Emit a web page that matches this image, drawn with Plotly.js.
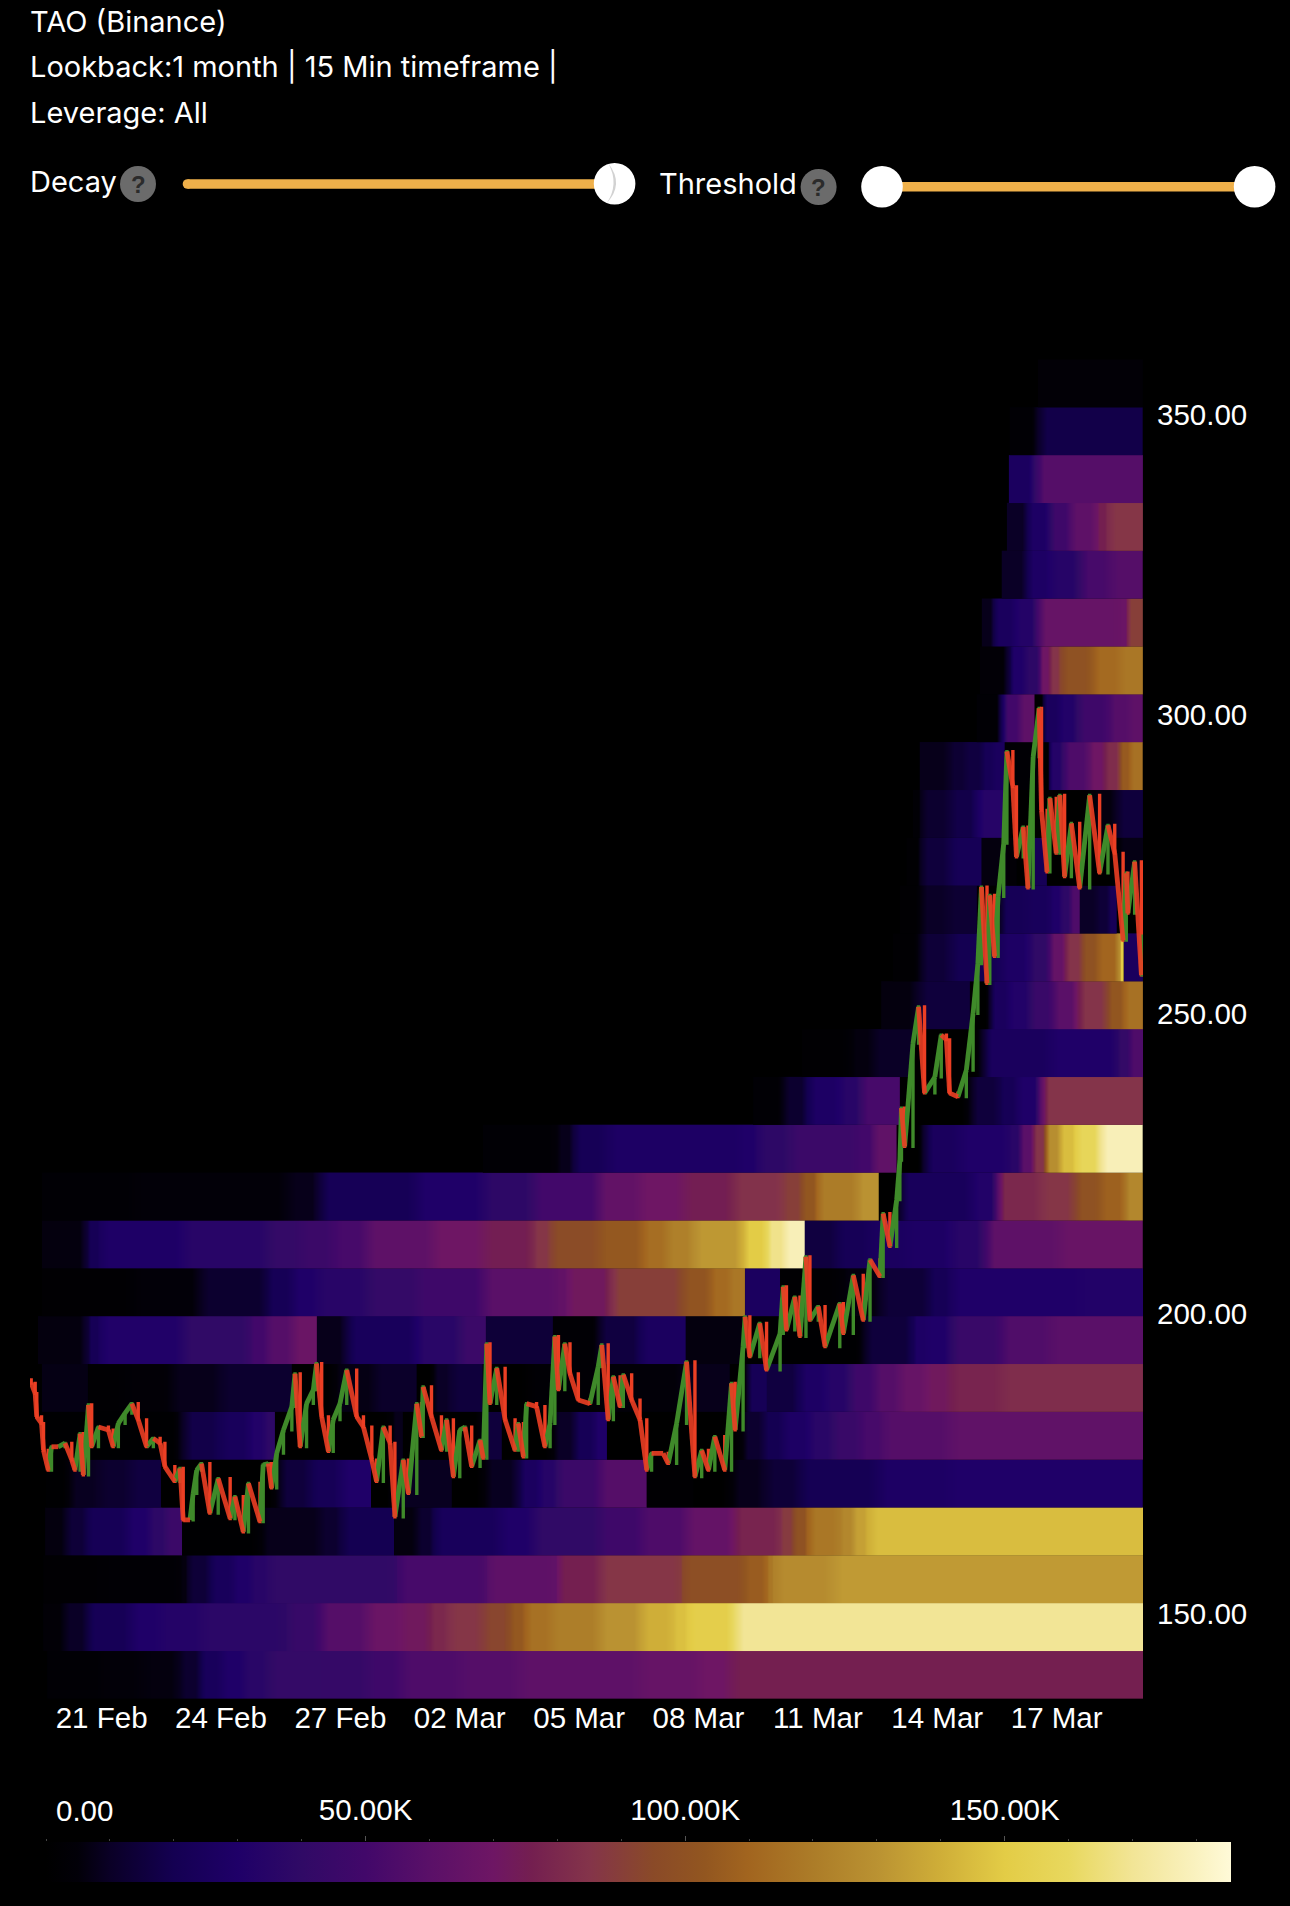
<!DOCTYPE html>
<html><head><meta charset="utf-8">
<script src="https://cdn.plot.ly/plotly-3.0.1.min.js"></script>
<style>html,body{margin:0;padding:0;background:#000}#c{width:1290px;height:1906px}</style>
</head><body><div id="c"></div>
<script>
// time is in days after 21 Feb; values in thousands
const candleDays=[-1.77,-1.67,-1.63,-1.51,-1.46,-1.34,-1.26,-1.09,-0.92,-0.75,-0.67,-0.54,-0.46,-0.33,-0.25,-0.08,0.17,0.29,0.42,0.59,0.76,0.92,1.13,1.30,1.47,1.59,1.84,1.97,2.05,2.22,2.30,2.39,2.51,2.72,2.93,3.23,3.35,3.56,3.69,3.98,4.06,4.19,4.27,4.40,4.57,4.78,4.86,4.99,5.15,5.32,5.40,5.53,5.70,5.82,5.99,6.16,6.41,6.58,6.79,6.91,7.08,7.25,7.37,7.58,7.71,7.92,8.04,8.08,8.29,8.54,8.67,8.84,9.00,9.13,9.30,9.51,9.59,9.68,9.76,9.93,10.14,10.39,10.47,10.60,10.68,10.93,11.14,11.27,11.39,11.48,11.64,11.77,11.98,12.27,12.48,12.57,12.73,12.86,13.03,13.11,13.32,13.53,13.70,13.82,14.11,14.24,14.45,14.70,14.91,15.08,15.25,15.41,15.66,15.83,15.92,16.12,16.17,16.29,16.54,16.71,17.05,17.13,17.21,17.42,17.55,17.70,17.80,18.01,18.18,18.55,18.64,18.89,19.14,19.31,19.56,19.64,19.81,19.98,20.06,20.10,20.18,20.39,20.53,20.68,20.94,21.10,21.23,21.31,21.52,21.73,21.90,22.02,22.11,22.25,22.32,22.44,22.53,22.67,22.75,22.90,22.99,23.16,23.28,23.41,23.56,23.62,23.76,23.83,23.99,24.08,24.20,24.37,24.58,24.83,25.08,25.29,25.46,25.67,25.75,25.79,25.96,26.13,26.15];
const candleCloses=[188.4,186.7,182.8,181.7,177.2,173.9,177.8,177.8,178.4,175.6,173.9,180.0,173.1,184.8,177.8,181.1,180.6,177.8,181.7,183.4,185.0,182.3,177.8,179.2,178.4,174.5,172.0,174.2,165.6,165.6,170.0,173.9,175.0,166.7,172.5,165.8,169.5,163.6,171.7,165.3,174.8,175.0,170.9,176.7,180.6,184.5,190.0,177.8,185.0,187.3,191.7,182.8,177.0,182.3,185.0,190.6,182.8,181.1,175.6,172.0,181.1,178.4,166.1,175.6,170.0,185.0,179.5,187.8,182.8,177.2,182.3,172.8,180.6,181.1,174.5,178.9,175.9,195.0,185.0,190.9,182.3,177.2,181.7,176.1,185.0,184.5,177.8,181.7,196.2,187.3,195.0,190.0,185.6,185.0,191.2,194.8,182.3,189.5,184.5,189.8,185.6,182.3,173.9,176.7,176.7,175.0,181.7,192.0,172.8,177.2,173.9,179.5,173.9,188.4,180.6,194.5,199.5,192.8,198.4,190.6,196.7,204.5,197.3,202.8,196.2,209.5,198.9,201.2,194.5,201.7,196.7,206.4,198.9,209.0,206.2,216.7,211.2,219.0,225.6,234.3,227.9,245.1,251.2,236.8,239.5,246.5,245.7,236.8,236.2,240.6,250.1,258.4,271.2,255.1,269.8,259.6,269.6,278.5,293.8,287.9,276.2,281.2,271.0,292.9,301.0,284.0,273.7,286.0,276.8,286.5,272.9,281.8,271.0,286.5,273.5,281.5,276.8,262.3,273.5,266.8,275.4,256.5,263.0];

const bandBottoms=[135.77,143.75,151.73,159.71,167.69,175.67,183.65,191.63,199.61,207.59,215.57,223.55,231.53,239.51,247.49,255.47,263.45,271.43,279.41,287.39,295.37,303.35,311.33,319.31,327.29,335.27,343.25,351.23];
const bandHeight=7.98;
const lastDay=26.17;
// each entry: [day the step starts, liquidation value in K]
const band0=[[-1.37,3],[0,5],[1,6],[1.97,12],[2.47,24],[3,30],[3.55,36],[4.15,42],[5.5,43],[6.67,48],[7.5,55],[9,58],[10.5,62],[13.5,66],[15,70],[15.8,76]];
const band1=[[-1.47,4],[-0.97,10],[-0.37,22],[0.71,30],[1.47,33],[2.47,37],[4.41,38],[4.66,44],[5.49,58],[6.67,68],[7.5,72],[8.25,80],[8.68,86],[9.58,93],[10.26,104],[10.64,115],[11.27,121],[12.5,130],[13.53,140],[14.36,146],[14.71,152],[15.87,170]];
const band2=[[-1.47,2],[0,3],[1.97,6],[2.15,14],[2.72,24],[3.3,30],[3.73,35],[4.15,40],[7.32,43],[7.42,52],[9.58,55],[9.68,62],[11.27,63],[11.45,76],[12.5,86],[14.53,90],[14.6,98],[16.12,106],[16.72,118],[16.87,127],[18.37,133]];
const band3=[[-1.42,6],[-0.9,14],[-0.4,22],[0.64,30],[1.2,38],[1.6,46],[2.02,1],[3.98,8],[5.49,12],[6,20],[7.35,6],[7.92,12],[8.33,24],[10,30],[10.84,40],[12.5,48],[13.53,55],[14.7,65],[15.87,78],[17.04,88],[17.37,100],[17.72,118],[18.55,125],[18.88,135],[19.23,145]];
const band4=[[-1.4,1],[-0.84,9],[-0.04,12],[0.71,16],[1.5,0],[4.43,15],[5.24,22],[6,30],[6.77,0],[7.25,9],[8.8,0],[9.58,9],[10.5,26],[11,34],[11.44,46],[12.5,58],[13.7,2],[14.88,0],[15.79,8],[16.67,14],[17.55,21],[19.5,28],[21.3,30]];
const band5=[[-1.4,1],[2.02,18],[3,24],[3.73,32],[4.1,38],[4.36,0],[7.29,8],[7.57,0],[9.58,15],[10.06,0],[11.34,10],[11.9,22],[12.4,30],[12.7,0],[16.12,12],[16.62,20],[17.13,28],[17.8,36],[18.38,45],[19.06,52],[19.64,58],[21.32,63]];
const band6=[[-1.5,7],[-0.34,2],[0.59,4],[1.72,8],[2.98,12],[4.78,0],[5.82,7],[6.87,11],[7.92,0],[8.33,10],[8.75,15],[9.58,0],[10.69,3],[12.5,5],[14.6,8],[15.79,0],[16.22,22],[16.72,16],[17.55,28],[18.17,34],[18.8,48],[19.43,58],[20.06,66],[20.69,72],[21.32,78],[22.6,82]];
const band7=[[-1.6,6],[-0.34,22],[-0.04,31],[2.05,40],[3.73,50],[4.15,58],[4.8,68],[5.41,8],[6.17,24],[7.92,36],[9,46],[9.66,14],[11.34,3],[12.5,16],[13.53,26],[14.68,6],[16.12,1],[19.13,15],[20.4,28],[20.69,30],[21.32,45],[22.6,56],[23.8,60]];
const band8=[[-1.5,2],[0.8,5],[2.47,12],[4.15,22],[4.8,30],[5.41,35],[6.67,42],[7.92,48],[9.58,60],[11.44,64],[11.69,72],[12.77,90],[14.6,102],[15.3,112],[15.8,118],[16.17,26],[17.05,2],[18.55,6],[19.56,14],[20.8,22],[21.32,30],[24.6,32]];
const band9=[[-1.5,6],[-0.37,22],[-0.04,29],[2.05,35],[4.15,42],[4.99,46],[5.82,52],[6.67,62],[8.33,70],[9.58,75],[10.84,86],[11.27,96],[12.5,104],[13.6,114],[14.2,122],[14.86,132],[16.12,150],[16.72,168],[17.17,178],[17.67,16],[18.5,22],[19.31,26],[20.2,28],[21.32,35],[22.2,62],[24.07,67]];
const band10=[[-1.5,3],[0.8,5],[4.66,8],[5.49,22],[7.92,30],[9.58,38],[10.84,50],[12.5,64],[13.53,70],[14.6,75],[15.87,84],[17.13,90],[17.6,103],[17.98,120],[19,130],[19.53,0],[20.06,24],[21.9,32],[22.5,80],[23.58,86],[24.48,100],[25.09,108],[25.71,125]];
const band11=[[9.58,3],[11.44,8],[11.84,22],[12.7,28],[16.04,30],[16.47,38],[17.3,46],[18.98,50],[19.38,63],[19.98,0],[20.66,25],[21.57,30],[22.8,36],[23.07,60],[23.4,85],[23.73,128],[24.08,145],[24.48,158],[25.09,178]];
const band12=[[16.37,3],[17.12,12],[17.72,28],[18.55,35],[19.05,52],[20.06,0],[21.82,15],[22.57,22],[23,30],[23.58,85]];
const band13=[[17.6,2],[18.8,6],[19.38,10],[20.4,0],[22.15,25],[23.83,30],[25.52,42],[25.84,55]];
const band14=[[19.59,6],[20.51,15],[21.82,0],[22.33,25],[22.8,32],[23.33,45],[23.9,60],[24.52,85],[25.28,103],[25.7,115]];
const band15=[[19.88,2],[20.56,14],[21.32,20],[22.58,28],[23.33,40],[23.83,65],[24.2,85],[24.64,100],[25,110],[25.59,150],[25.69,25]];
const band16=[[20.06,2],[20.56,10],[21.27,13],[22,0],[22.58,22],[23.25,24],[23.83,30],[24.08,38],[24.33,55],[24.58,10],[25,14],[25.3,22],[25.52,0]];
const band17=[[20.23,2],[20.56,15],[21.32,22],[22.12,6],[22.75,4],[23,0],[23.33,22],[23.76,0],[25.5,7]];
const band18=[[20.39,3],[20.56,12],[21.32,18],[22,34],[22.7,0],[24.83,6],[25.52,15]];
const band19=[[20.56,8],[21.32,13],[21.7,16],[22.15,22],[22.4,25],[22.7,3],[23.7,0],[23.8,33],[24.15,55],[24.83,70],[25.2,82],[25.59,105],[25.84,115]];
const band20=[[21.99,3],[22.65,50],[23.08,62],[23.45,0],[23.65,25],[24.07,32],[24.5,48],[25.33,58],[25.84,62]];
const band21=[[22.07,4],[22.82,30],[23.2,38],[23.58,70],[23.83,85],[24.08,100],[24.91,112],[25.59,118]];
const band22=[[22.12,8],[22.4,25],[22.95,33],[23.5,66],[25.59,68],[25.77,90]];
const band23=[[22.62,10],[23.25,28],[23.83,34],[24.58,52],[25.33,58]];
const band24=[[22.75,10],[23.25,28],[23.83,48],[24.33,62],[25,76],[25.26,86]];
const band25=[[22.8,26],[23.45,58]];
const band26=[[22.82,3],[23.53,18]];
const band27=[[23.53,4]];
const allBands=[band0,band1,band2,band3,band4,band5,band6,band7,band8,band9,band10,band11,band12,band13,band14,band15,band16,band17,band18,band19,band20,band21,band22,band23,band24,band25,band26,band27];

const scaleValues=[0,5,10,20,30,40,50,60,70,76,85,95,103,110,120,130,140,150,160,170,180,185.4];
const scaleColors=['#000000','#020008','#0a0026','#140052','#1f0068','#300a66','#42086a','#5a1068','#6e1664','#741f50','#84344a','#8a4a28','#925620','#a2651f','#ac7c28','#ba9232','#cfae38','#e3cc46','#e8d85e','#f2e596','#faf2c0','#fffad8'];
const priceTicks=[150,200,250,300,350];
const dateTickStart='2025-02-21';
const legendTicks=[50,100,150];
const legendLabels=['50.00K','100.00K','150.00K'];

const W=1290,H=1906;
const px=x=>x/W, py=y=>1-y/H;
const toDate=d=>new Date(Date.UTC(2025,1,21)+d*864e5).toISOString();
const MAXV=scaleValues[scaleValues.length-1];
const CELL=0.5;

// a band is cut where its value falls (the level was swept by price); each piece is a
// smoothed heatmap, with long steps held flat by repeating the same read value
function bandPieces(pairs,i){
  const pieces=[];let cur=[];
  pairs.forEach((p,j)=>{
    const end=j+1<pairs.length?pairs[j+1][0]:lastDay;
    if(cur.length&&p[1]<cur[cur.length-1].v){pieces.push(cur);cur=[];}
    cur.push({a:p[0],b:end,v:p[1]});
  });
  if(cur.length)pieces.push(cur);
  return pieces.filter(r=>r.some(c=>c.v>0)).map(r=>{
    const edges=[r[0].a],vals=[];
    r.forEach(c=>{
      const n=Math.max(2,Math.ceil((c.b-c.a)/CELL));
      for(let k=1;k<=n;k++){edges.push(c.a+(c.b-c.a)*k/n);vals.push(c.v);}
    });
    return {type:'heatmap',x:edges.map(toDate),y:[bandBottoms[i],bandBottoms[i]+bandHeight/2,bandBottoms[i]+bandHeight],
      z:[vals,vals],zsmooth:'best',coloraxis:'coloraxis',hoverinfo:'skip'};
  });
}
const traces=[];
allBands.forEach((b,i)=>bandPieces(b,i).forEach(t=>traces.push(t)));

const opens=candleCloses.map((c,i)=>i?candleCloses[i-1]:189);
const GREEN='#3f8a2a',RED='#ec3f24';
traces.push({
  type:'candlestick',
  x:candleDays.map(toDate),open:opens,close:candleCloses,
  high:candleCloses.map((c,i)=>Math.max(c,opens[i])),
  low:candleCloses.map((c,i)=>Math.min(c,opens[i])),
  increasing:{line:{color:GREEN,width:3},fillcolor:GREEN},
  decreasing:{line:{color:RED,width:3},fillcolor:RED},
  whiskerwidth:0,hoverinfo:'skip',showlegend:false
});
// moves between consecutive candles, so the 15-minute candles read as one dense ribbon
function moves(up){
  const xs=[],ys=[];
  candleCloses.forEach((c,i)=>{
    if(i&&(c>opens[i])===up){xs.push(toDate(candleDays[i-1]),toDate(candleDays[i]),null);ys.push(opens[i],c,null);}
  });
  return {type:'scatter',mode:'lines',x:xs,y:ys,line:{color:up?GREEN:RED,width:4.8},opacity:up?1:0.9,hoverinfo:'skip',showlegend:false};
}
traces.push(moves(true),moves(false));
traces.push({type:'scatter',mode:'markers',x:[0],y:[0],xaxis:'x2',yaxis:'y2',marker:{opacity:0},hoverinfo:'skip',showlegend:false});

const AX='"Liberation Sans", Arial, sans-serif', HD='Inter, sans-serif';
const note=(text,x,y,size,extra)=>Object.assign({text,xref:'paper',yref:'paper',x:px(x),y:py(y),xanchor:'left',yanchor:'middle',showarrow:false,align:'left',
  font:{family:HD,size:size||29,color:'#fff',weight:400},borderpad:0},extra||{});
const circ=(cx,cy,r,color)=>({type:'circle',xref:'paper',yref:'paper',x0:px(cx-r),x1:px(cx+r),y0:py(cy+r),y1:py(cy-r),fillcolor:color,line:{width:0},layer:'above'});
const rect=(x0,x1,y0,y1,color)=>({type:'rect',xref:'paper',yref:'paper',x0:px(x0),x1:px(x1),y0:py(y1),y1:py(y0),fillcolor:color,line:{width:0},layer:'above'});
const pt=(x,y)=>px(x)+' '+py(y);

const layout={
  width:W,height:H,margin:{l:0,r:0,t:0,b:0,pad:0},paper_bgcolor:'#000',plot_bgcolor:'#000',showlegend:false,
  font:{family:AX,color:'#fff',size:29.5},
  xaxis:{type:'date',domain:[px(30),px(1143)],range:[toDate(-1.8),toDate(lastDay)],tick0:dateTickStart,dtick:3*864e5,tickformat:'%d %b',
    showgrid:false,zeroline:false,showline:false,ticks:'',ticklabelstandoff:-1,rangeslider:{visible:false},tickfont:{family:AX,size:29.5,color:'#fff'},fixedrange:true},
  yaxis:{domain:[py(1698.7),py(340)],range:[135.77,362.44],side:'right',tickvals:priceTicks,tickformat:'.2f',
    showgrid:false,zeroline:false,showline:false,ticks:'',ticklabelstandoff:13,tickfont:{family:AX,size:29.5,color:'#fff'},fixedrange:true},
  xaxis2:{anchor:'y2',side:'top',domain:[px(46),px(1231)],range:[0,MAXV],tickvals:legendTicks,ticktext:legendLabels,
    showgrid:false,zeroline:false,showline:false,ticks:'outside',ticklen:5,tickwidth:1,tickcolor:'#555',ticklabelstandoff:4,
    minor:{dtick:10,ticks:'outside',ticklen:2,tickcolor:'#444',showgrid:false},tickfont:{family:AX,size:29.5,color:'#fff'},fixedrange:true},
  yaxis2:{domain:[py(1882),py(1842)],range:[0,1],visible:false,fixedrange:true},
  coloraxis:{cmin:0,cmax:MAXV,colorscale:scaleValues.map((v,i)=>[v/MAXV,scaleColors[i]]),
    colorbar:{orientation:'h',lenmode:'pixels',len:1185,thicknessmode:'pixels',thickness:40,x:px(46),xanchor:'left',y:py(1882),yanchor:'bottom',
      xpad:0,ypad:0,outlinewidth:0,borderwidth:0,ticks:'',showticklabels:false}},
  annotations:[
    note('TAO (Binance)',29,22),
    note('Lookback:1 month | 15 Min timeframe |',29,67),
    note('Leverage: All',29,112),
    note('Decay',29,181),
    note('Threshold',658,183.5),
    {text:'?',xref:'paper',yref:'paper',x:px(138),y:py(184),xanchor:'center',yanchor:'middle',showarrow:false,font:{family:AX,size:24,color:'#2b2b2b',weight:700}},
    {text:'?',xref:'paper',yref:'paper',x:px(818.6),y:py(187),xanchor:'center',yanchor:'middle',showarrow:false,font:{family:AX,size:24,color:'#2b2b2b',weight:700}},
    {text:'0.00',xref:'x2',yref:'paper',x:1.3,y:py(1810.7),xanchor:'left',yanchor:'middle',showarrow:false,font:{family:AX,size:29.5,color:'#fff'}}
  ],
  shapes:[
    circ(187.5,184,4.8,'#efb04a'),
    rect(187.5,600,179.2,188.8,'#efb04a'),
    rect(882,1254,182,191.4,'#efb04a'),
    circ(138,184,18,'#6b6b6b'),
    circ(818.6,187,18,'#6b6b6b'),
    circ(614.6,183.8,20.8,'#ffffff'),
    {type:'path',xref:'paper',yref:'paper',layer:'above',fillcolor:'#d2d2d2',line:{width:0},
      path:'M '+pt(608.3,163.3)+' Q '+pt(624.5,184)+' '+pt(606.7,203.3)+' Q '+pt(619.5,184)+' '+pt(608.3,163.3)+' Z'},
    circ(882,186.8,20.8,'#ffffff'),
    circ(1254.6,186.8,20.8,'#ffffff')
  ]
};
Plotly.newPlot('c',traces,layout,{displayModeBar:false,staticPlot:true});
</script></body></html>
